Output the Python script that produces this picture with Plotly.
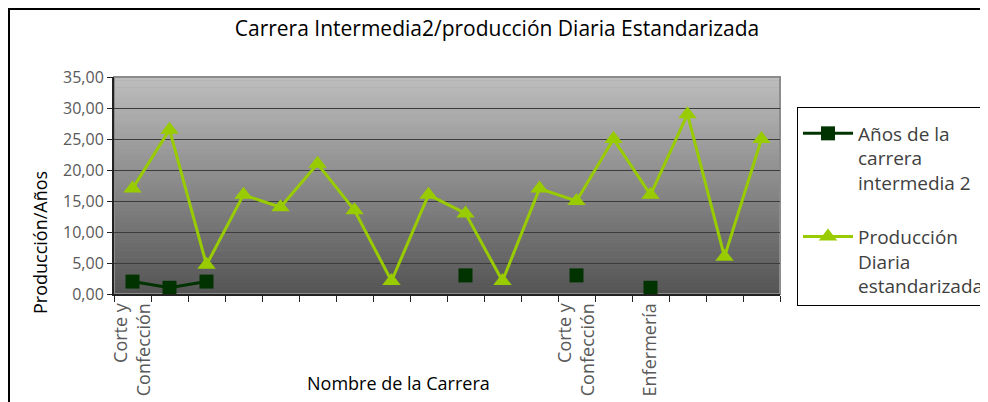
import plotly.graph_objects as go

# ---- data ----
categories = ["Corte y<br>Confección", "", "", "", "", "", "", "", "", "", "", "",
              "Corte y<br>Confección", "", "Enfermería", "", "", ""]
anios_carrera = [2, 1, 2, None, None, None, None, None, None, 3, None, None,
                 3, None, 1, None, None, None]
produccion_diaria = [17, 26.5, 4.7, 16, 14, 21, 13.5, 2.1, 16, 13, 2.1, 17,
                     15, 25, 16, 29, 6, 25]
y_ticks = [0, 5, 10, 15, 20, 25, 30, 35]

x_idx = list(range(1, len(categories) + 1))

OFF = 8  # page body margin offset
W, H = 988, 402
PL, PR, PT, PB = 114 - OFF, 780 - OFF, 77 - OFF, 294 - OFF  # plot area in figure px
PW, PH = PR - PL, PB - PT


def px_x(x):
    return (x - OFF - PL) / PW


def px_y(y):
    return (PB - (y - OFF)) / PH


fig = go.Figure()
fig.add_trace(go.Scatter(
    x=x_idx, y=anios_carrera, mode="lines+markers",
    name="Años de la<br>carrera<br>intermedia 2", legendgroup="a",
    line=dict(color="#003300", width=3),
    marker=dict(symbol="square", size=14, color="#003300"),
    connectgaps=False,
))
fig.add_trace(go.Scatter(
    x=x_idx, y=produccion_diaria, mode="lines+markers",
    name="Producción<br>Diaria<br>estandarizada", legendgroup="b",
    line=dict(color="#99cc00", width=3),
    marker=dict(symbol="triangle-up", size=16, color="#99cc00"),
))

# gradient background bands
shapes = []
n = 60
top = (190, 190, 190)
bot = (84, 84, 84)
for i in range(n):
    t = (i + 0.5) / n
    c = tuple(int(round(bot[k] + (top[k] - bot[k]) * t)) for k in range(3))
    shapes.append(dict(type="rect", xref="paper", yref="paper",
                       x0=0, x1=1, y0=i / n, y1=(i + 1) / n + 0.002,
                       fillcolor="rgb(%d,%d,%d)" % c, line=dict(width=0),
                       layer="below"))
shapes.append(dict(type="rect", xref="paper", yref="paper", x0=0, x1=1, y0=0, y1=1,
                   line=dict(color="#8c8c8c", width=2), layer="below"))
shapes.append(dict(type="rect", xref="paper", yref="paper",
                   x0=px_x(9), x1=1.5, y0=-0.8, y1=px_y(9),
                   line=dict(color="black", width=2), layer="below"))

font_family = "Open Sans, Noto Sans, DejaVu Sans, sans-serif"

fig.update_layout(
    width=W, height=H,
    margin=dict(l=PL, r=W - PR, t=PT, b=H - PB, autoexpand=False),
    paper_bgcolor="white", plot_bgcolor="#888888",
    separators=",.",
    showlegend=True,
    title=dict(text="Carrera Intermedia2/producción Diaria Estandarizada",
               x=(497 - OFF) / W, xref="container", xanchor="center",
               y=1 - (29 - OFF) / H, yref="container", yanchor="middle",
               font=dict(family=font_family, size=21, color="black")),
    legend=dict(x=px_x(797), xanchor="left", y=px_y(107), yanchor="top",
                bgcolor="white", bordercolor="black", borderwidth=1,
                font=dict(family=font_family, size=19, color="#404040"),
                tracegroupgap=26, itemwidth=50, valign="top",
                traceorder="grouped",
                title=dict(text=" ", font=dict(size=5))),
    shapes=shapes,
    xaxis=dict(range=[0.5, len(categories) + 0.5], tickmode="array",
               tickvals=x_idx, ticktext=categories, tickangle=-90,
               ticks="", showgrid=False, zeroline=False, automargin=False,
               showline=True, linecolor="#222222", linewidth=2,
               tickfont=dict(family=font_family, size=18, color="#595959"),
               minor=dict(tickvals=[i + 0.5 for i in range(0, len(categories) + 1)],
                          ticks="outside", ticklen=6, tickcolor="#222222", tickwidth=1,
                          showgrid=False)),
    yaxis=dict(range=[0, 35], tickmode="array", tickvals=y_ticks, tickformat=".2f",
               ticks="outside", ticklen=5, tickcolor="#222222", automargin=False,
               showgrid=True, gridcolor="#3c3c3c", gridwidth=1, zeroline=False,
               showline=True, linecolor="#222222", linewidth=2,
               tickfont=dict(family=font_family, size=16, color="#595959")),
    annotations=[
        dict(text="Producción/Años", xref="paper", yref="paper",
             x=px_x(40), y=px_y(243), textangle=-90,
             showarrow=False, xanchor="center", yanchor="middle",
             font=dict(family=font_family, size=18, color="black")),
        dict(text="Nombre de la Carrera", xref="paper", yref="paper",
             x=px_x(398), y=px_y(383),
             showarrow=False, xanchor="center", yanchor="middle",
             font=dict(family=font_family, size=18, color="black")),
    ],
)

fig.write_html("out.html")
